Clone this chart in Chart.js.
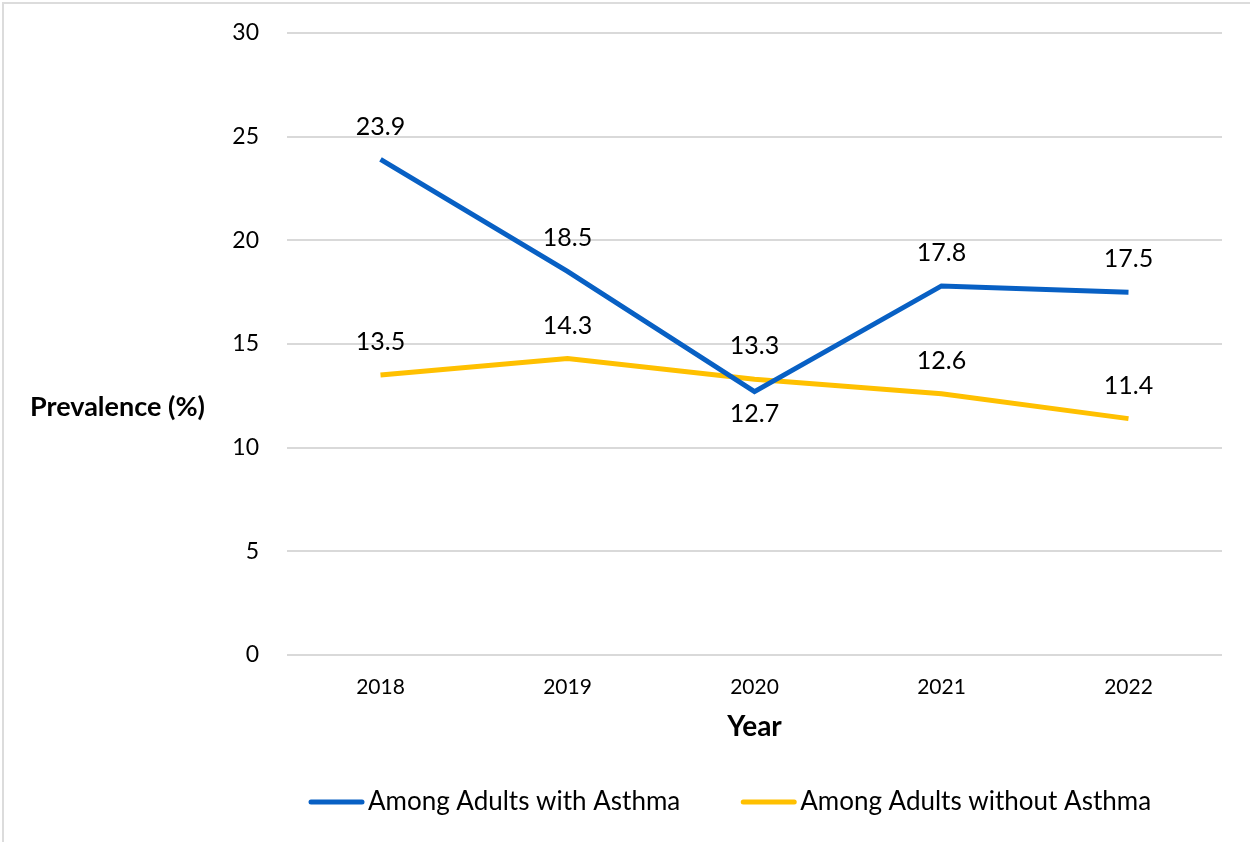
<!DOCTYPE html>
<html lang="en">
  <head>
    <meta charset="UTF-8" />
    <title>Prevalence by Year</title>
    <style>
      body {
        margin: 0;
        background: #ffffff;
      }
      .chart-container {
        position: relative;
        width: 1250px;
        height: 842px;
      }
    </style>
    <script src="https://cdn.jsdelivr.net/npm/chart.js"></script>
  </head>
  <body>
    <div class="chart-container">
      <canvas id="prevalenceChart"></canvas>
    </div>

    <script>
      // data
      const years = ["2018", "2019", "2020", "2021", "2022"];
      const withAsthma = [23.9, 18.5, 12.7, 17.8, 17.5];
      const withoutAsthma = [13.5, 14.3, 13.3, 12.6, 11.4];
      const seriesNames = ["Among Adults with Asthma", "Among Adults without Asthma"];
      // which labels sit under the point instead of above it
      const labelBelow = [
        [false, false, true, false, false],
        [false, false, false, false, false],
      ];

      const FONT = "Lato";
      const BLUE = "#0860c4";
      const YELLOW = "#ffc000";

      // outer frame, horizontal y title, point labels and the legend
      const extras = {
        id: "extras",
        beforeDraw(chart) {
          const ctx = chart.ctx;
          ctx.save();
          ctx.fillStyle = "#dcdcdc";
          ctx.fillRect(2, 2, 2, 840);
          ctx.fillRect(2, 2, 1248, 2);
          ctx.restore();
        },
        afterDatasetsDraw(chart) {
          const ctx = chart.ctx;
          ctx.save();
          ctx.fillStyle = "#000";
          ctx.font = "25px " + FONT;
          ctx.textAlign = "center";
          ctx.textBaseline = "middle";
          chart.data.datasets.forEach((ds, i) => {
            const meta = chart.getDatasetMeta(i);
            meta.data.forEach((pt, j) => {
              const dy = labelBelow[i][j] ? 22 : -33;
              ctx.fillText(ds.data[j].toFixed(1), pt.x, pt.y + dy);
            });
          });

          ctx.font = "bold 27px " + FONT;
          ctx.textAlign = "left";
          ctx.fillText("Prevalence (%)", 30, 407);

          // legend
          ctx.font = "26px " + FONT;
          let x = 309;
          const y = 802;
          chart.data.datasets.forEach((ds) => {
            ctx.strokeStyle = ds.borderColor;
            ctx.lineWidth = 5;
            ctx.lineCap = "round";
            ctx.beginPath();
            ctx.moveTo(x + 2, y);
            ctx.lineTo(x + 53, y);
            ctx.stroke();
            x += 59;
            ctx.fillStyle = "#000";
            ctx.fillText(ds.label, x, y);
            x += ctx.measureText(ds.label).width + 61;
          });
          ctx.restore();
        },
      };

      const ctx = document.getElementById("prevalenceChart").getContext("2d");
      new Chart(ctx, {
        type: "line",
        data: {
          labels: years,
          datasets: [
            {
              label: seriesNames[0],
              data: withAsthma,
              borderColor: BLUE,
              backgroundColor: BLUE,
              borderWidth: 5,
              pointRadius: 0,
              tension: 0,
            },
            {
              label: seriesNames[1],
              data: withoutAsthma,
              borderColor: YELLOW,
              backgroundColor: YELLOW,
              borderWidth: 5,
              pointRadius: 0,
              tension: 0,
            },
          ],
        },
        options: {
          responsive: true,
          maintainAspectRatio: false,
          animation: false,
          layout: {
            padding: { top: 33, right: 28, bottom: 66, left: 0 },
          },
          plugins: {
            tooltip: { enabled: false },
            legend: { display: false },
          },
          scales: {
            x: {
              offset: true,
              grid: { display: false },
              border: { display: false },
              ticks: {
                color: "#000",
                padding: 12,
                font: { family: FONT, size: 21 },
              },
              title: {
                display: true,
                text: "Year",
                color: "#000",
                font: { family: FONT, size: 28, weight: "bold" },
                padding: { top: 0, bottom: 32 },
              },
              afterFit(scale) {
                scale.height = 121;
              },
            },
            y: {
              min: 0,
              max: 30,
              ticks: {
                stepSize: 5,
                color: "#000",
                padding: 28,
                font: { family: FONT, size: 23 },
              },
              grid: {
                color: "#d9d9d9",
                lineWidth: 2,
                drawTicks: false,
              },
              border: { display: false },
              afterFit(scale) {
                scale.width = 287;
                scale.paddingTop = 0;
                scale.paddingBottom = 0;
              },
            },
          },
        },
        plugins: [extras],
      });
    </script>
  </body>
</html>
